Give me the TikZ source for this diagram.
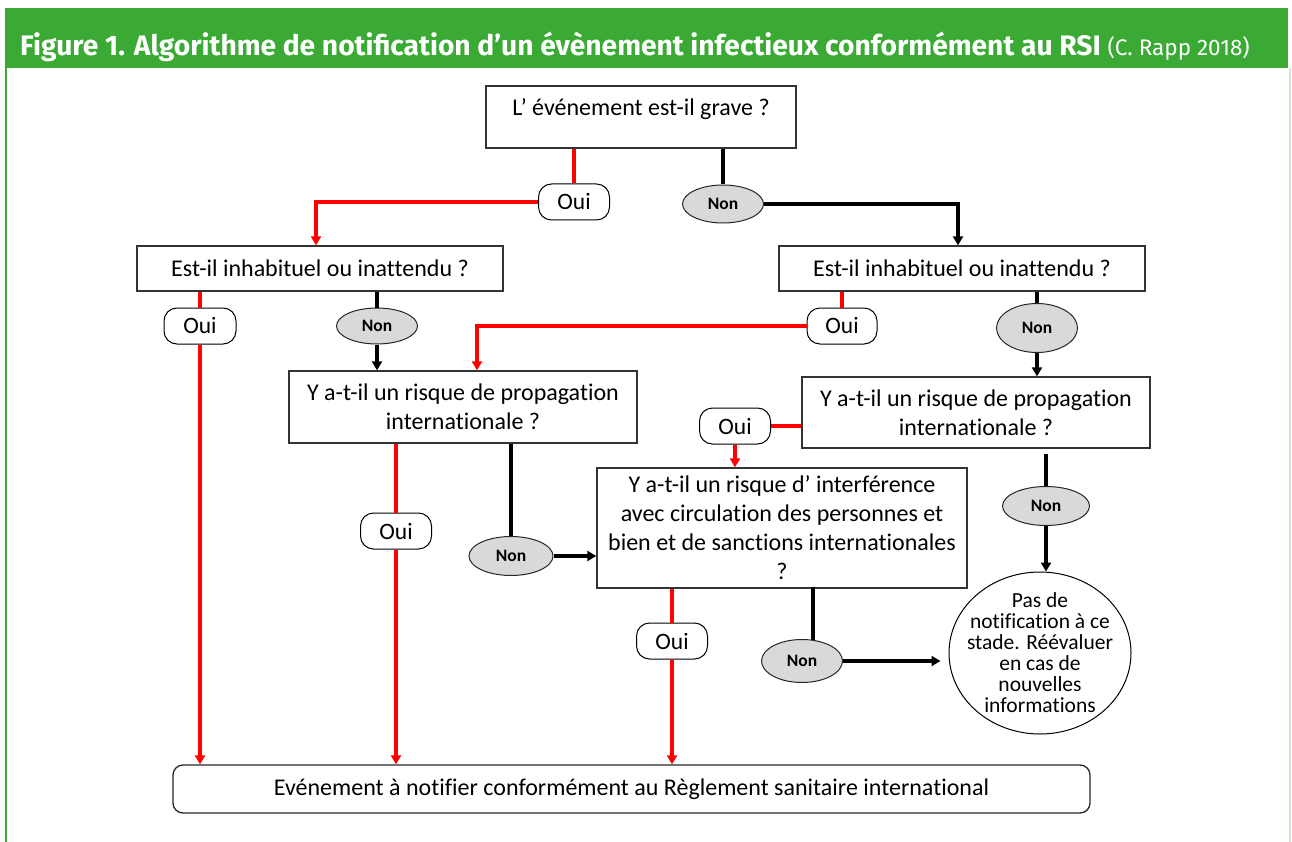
\documentclass[tikz,border=0pt]{standalone}
\usepackage{fontspec}
\setmainfont{Carlito}[RawFeature={-liga}]
\newfontfamily\titlefont{Fira Sans}
\usetikzlibrary{arrows.meta,shapes.geometric,calc}
\definecolor{headgreen}{HTML}{3BAA35}
\definecolor{paleframe}{HTML}{CFE8CC}
\definecolor{yesred}{HTML}{FF0000}
\definecolor{nongray}{HTML}{D9D9D9}

\begin{document}
\begin{tikzpicture}[x=1pt,y=-1pt,
  qbox/.style={draw=black!80,line width=1.3pt,fill=white,inner sep=0pt,align=center,
    font=\fontsize{24}{29}\selectfont},
  yesnode/.style={draw=black,line width=1pt,fill=white,rounded corners=13pt,
    minimum width=71pt,minimum height=36pt,inner sep=0pt,font=\fontsize{23.5}{26}\selectfont},
  nonode/.style={ellipse,draw=black!85,line width=1pt,fill=nongray,inner sep=0pt,
    font=\bfseries\fontsize{17.5}{19}\selectfont},
  yesline/.style={yesred,line width=3.4pt},
  noline/.style={black,line width=3.4pt},
  tip/.style={-{Triangle[length=9pt,width=10pt]}}
]
\useasboundingbox (0,0) rectangle (1292,842);

% frame and heading band
\fill[headgreen] (5,8) rectangle (1288,68);
\draw[headgreen,line width=2.5pt] (6,68) -- (6,842);
\draw[paleframe,line width=1.5pt] (1290,68) -- (1290,842);
\node[anchor=base west,text=white,inner sep=0pt] (title) at (20,56)
  {\titlefont\fontsize{28.2}{30}\selectfont\bfseries Figure 1. Algorithme de notification d’un évènement infectieux conformément au RSI\ \mdseries\fontsize{22.5}{26}\selectfont(C. Rapp 2018)};

% questions
\node[qbox,minimum width=310pt,minimum height=62pt] (q1) at (641,117)
  {\raisebox{8pt}[\height][\depth]{L’ événement est-il grave ?}};
\node[qbox,minimum width=366pt,minimum height=45pt] (q2L) at (320,268.5) {Est-il inhabituel ou inattendu ?};
\node[qbox,minimum width=366pt,minimum height=45pt] (q2R) at (962,268.5) {Est-il inhabituel ou inattendu ?};
\node[qbox,minimum width=348pt,minimum height=72pt] (q3L) at (463,407) {Y a-t-il un risque de propagation\\internationale ?};
\node[qbox,minimum width=348pt,minimum height=71pt] (q3R) at (976,412.5) {Y a-t-il un risque de propagation\\internationale ?};
\node[qbox,minimum width=370pt,minimum height=120pt] (q4) at (782,528)
  {Y a-t-il un risque d’ interférence\\avec circulation des personnes et\\bien et de sanctions internationales\\?};

% answers
\node[yesnode] (yes1) at (574,202) {Oui};
\node[nonode,minimum width=81pt,minimum height=38pt] (no1) at (723,204) {Non};
\node[yesnode,minimum width=72pt] (yes2L) at (200,326) {Oui};
\node[nonode,minimum width=81pt,minimum height=36pt] (no2L) at (377,326) {Non};
\node[yesnode,minimum width=70pt] (yes2R) at (842,326) {Oui};
\node[nonode,minimum width=81pt,minimum height=49pt] (no2R) at (1037,328) {Non};
\node[yesnode] (yes3R) at (735,426) {Oui};
\node[yesnode] (yes3L) at (396,531) {Oui};
\node[nonode,minimum width=84pt,minimum height=39pt] (no3L) at (511,556) {Non};
\node[yesnode] (yes4) at (672,641) {Oui};
\node[nonode,minimum width=81pt,minimum height=43pt] (no4) at (802,661) {Non};
\node[nonode,minimum width=87pt,minimum height=39pt] (no3R) at (1046,506) {Non};

% outcomes
\node[ellipse,draw=black,line width=1pt,fill=white,inner xsep=-10pt,inner ysep=-8pt,
  minimum width=182pt,minimum height=162pt,
  align=center,font=\fontsize{21.5}{21}\selectfont] (end) at (1040,653)
  {Pas de\\notification à ce\\stade. Réévaluer\\en cas de\\nouvelles\\informations};
\node[draw=black!85,line width=1.3pt,rounded corners=10pt,minimum width=917pt,minimum height=48pt,inner sep=0pt,
  font=\fontsize{24}{26}\selectfont] (final) at (631.5,789)
  {Evénement à notifier conformément au Règlement sanitaire international};

% connectors
\draw[yesline] (yes1.north |- q1.south) -- (yes1.north);
\draw[yesline,tip] (yes1.west) -| ([xshift=-4pt]q2L.north);
\draw[noline] (no1.north |- q1.south) -- (no1.north);
\draw[noline,tip] (no1.east) -| ([xshift=-4pt]q2R.north);

\draw[yesline] (yes2L.north |- q2L.south) -- (yes2L.north);
\draw[yesline,tip] (yes2L.south) -- (yes2L.south |- final.north);
\draw[noline] (no2L.north |- q2L.south) -- (no2L.north);
\draw[noline,tip] (no2L.south) -- (no2L.south |- q3L.north);

\draw[yesline] (yes2R.north |- q2R.south) -- (yes2R.north);
\draw[yesline,tip] (yes2R.west) -| ([xshift=14pt]q3L.north);
\draw[noline] (no2R.north |- q2R.south) -- (no2R.north);
\draw[noline,tip] (no2R.south) -- (no2R.south |- q3R.north);

\draw[yesline] (q3R.west |- yes3R.east) -- (yes3R.east);
\draw[yesline,tip] (yes3R.south) -- (yes3R.south |- q4.north);
\draw[noline] ($(no3R.north |- q3R.south)+(0,5)$) -- (no3R.north);
\draw[noline,tip] (no3R.south) -- (no3R.south |- end.north);

\draw[yesline] (yes3L.north |- q3L.south) -- (yes3L.north);
\draw[yesline,tip] (yes3L.south) -- (yes3L.south |- final.north);
\draw[noline] (no3L.north |- q3L.south) -- (no3L.north);
\draw[noline,tip] (no3L.east) -- (no3L.east -| q4.west);

\draw[yesline] (yes4.north |- q4.south) -- (yes4.north);
\draw[yesline,tip] (yes4.south) -- (yes4.south |- final.north);
\draw[noline] ($(no4.north |- q4.south)+(11,-2)$) -- ($(no4.north)+(11,1)$);
\draw[noline,tip,shorten >=8pt] (no4.east) -- (no4.east -| end.west);
\end{tikzpicture}
\end{document}
